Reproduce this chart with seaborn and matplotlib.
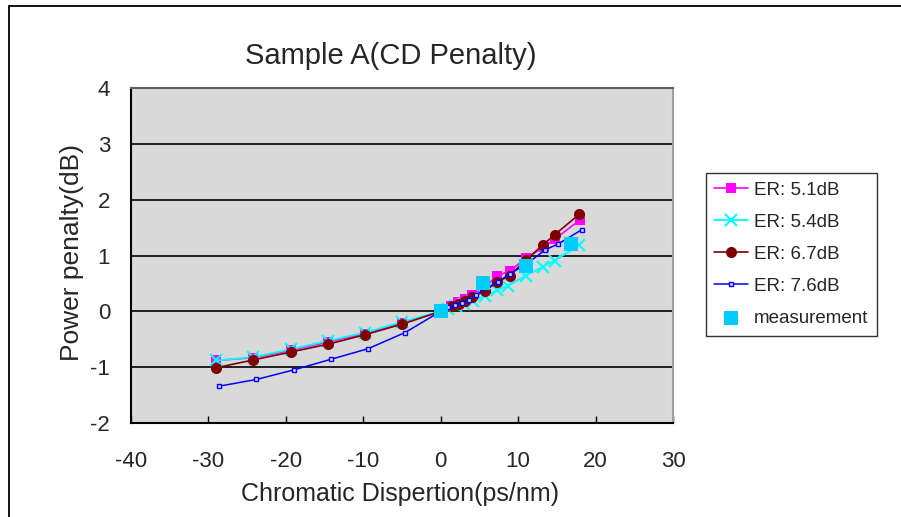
import numpy as np
import matplotlib.pyplot as plt
from matplotlib.lines import Line2D
import seaborn as sns

sns.set_style("white")
plt.rcParams['font.family'] = ['Liberation Sans', 'DejaVu Sans']
plt.rcParams['axes.unicode_minus'] = False

# chromatic dispersion (ps/nm) and power penalty (dB) per extinction ratio
x_er51 = [-29.0, -24.2, -19.4, -14.6, -9.8, -5.0, 0, 1.3, 2.2, 3.1, 4.0, 5.6, 7.3, 8.9, 11.0, 13.3, 14.8, 18.0]
y_er51 = [-0.88, -0.83, -0.70, -0.55, -0.40, -0.21, 0, 0.10, 0.16, 0.22, 0.29, 0.42, 0.64, 0.72, 0.95, 1.15, 1.30, 1.64]

x_er54 = [-29.0, -24.2, -19.4, -14.6, -9.8, -5.0, 0, 1.0, 2.0, 3.0, 4.2, 5.7, 7.3, 8.7, 11.0, 13.2, 14.7, 17.9]
y_er54 = [-0.88, -0.82, -0.68, -0.53, -0.38, -0.19, 0, 0.05, 0.09, 0.14, 0.19, 0.28, 0.38, 0.46, 0.64, 0.80, 0.91, 1.18]

x_er67 = [-29.0, -24.2, -19.4, -14.6, -9.8, -5.0, 0, 1.4, 2.3, 3.2, 4.0, 5.7, 7.3, 8.9, 11.0, 13.2, 14.7, 17.9]
y_er67 = [-1.01, -0.87, -0.73, -0.59, -0.42, -0.23, 0, 0.09, 0.14, 0.19, 0.25, 0.37, 0.52, 0.64, 0.92, 1.19, 1.37, 1.74]

x_er76 = [-28.6, -23.8, -19.0, -14.2, -9.4, -4.6, 0, 1.0, 1.9, 2.7, 3.6, 4.5, 7.4, 8.9, 11.0, 13.5, 15.2, 18.2]
y_er76 = [-1.34, -1.22, -1.05, -0.86, -0.67, -0.38, 0, 0.07, 0.11, 0.15, 0.20, 0.29, 0.53, 0.67, 0.84, 1.10, 1.21, 1.46]

x_meas = [0, 5.5, 11.0, 16.8]
y_meas = [0, 0.51, 0.81, 1.21]

fig = plt.figure(figsize=(9.01, 5.17), dpi=100)
ax = fig.add_axes([131 / 901, 1 - 423 / 517, 542 / 901, 335 / 517])
ax.set_facecolor('#D9D9D9')

# seaborn draws marker edges white by default, so give each series its own edge colour
sns.lineplot(x=x_er51, y=y_er51, ax=ax, sort=False, color='#FF00FF', marker='s',
             markersize=7, markeredgecolor='#FF00FF', markeredgewidth=0,
             linewidth=1.2, label='ER: 5.1dB', zorder=3)
sns.lineplot(x=x_er54, y=y_er54, ax=ax, sort=False, color='#00FFFF', marker='x',
             markersize=8, markeredgecolor='#00FFFF', markeredgewidth=1.5,
             linewidth=1.3, label='ER: 5.4dB', zorder=3)
sns.lineplot(x=x_er67, y=y_er67, ax=ax, sort=False, color='#800000', marker='o',
             markersize=8, markeredgecolor='#800000', markeredgewidth=0,
             linewidth=1.2, label='ER: 6.7dB', zorder=4)
sns.lineplot(x=x_er76, y=y_er76, ax=ax, sort=False, color='#0000FF', marker='s',
             markersize=3.3, markerfacecolor='#D8D8FF', markeredgecolor='#0000FF',
             markeredgewidth=1.0, linewidth=1.1, label='ER: 7.6dB', zorder=5)
sns.scatterplot(x=x_meas, y=y_meas, ax=ax, color='#00CCFF', marker='s', s=100,
                linewidth=0, label='measurement', zorder=6)

ax.set_xlim(-40, 30)
ax.set_ylim(-2, 4)
ax.set_xticks(np.arange(-40, 31, 10))
ax.set_yticks(np.arange(-2, 5, 1))
ax.yaxis.grid(True, color='#111111', linewidth=1.3)
ax.xaxis.grid(False)
ax.set_axisbelow(True)

ax.tick_params(axis='x', direction='in', length=5, width=1, color='black',
               pad=20, labelsize=16, bottom=True)
ax.tick_params(axis='y', length=0, pad=15, labelsize=16)

ax.spines['left'].set_color('black')
ax.spines['left'].set_linewidth(1.5)
ax.spines['bottom'].set_color('black')
ax.spines['bottom'].set_linewidth(1.5)
ax.spines['top'].set_color('#606060')
ax.spines['top'].set_linewidth(1.5)
ax.spines['right'].set_color('#A0A0A0')
ax.spines['right'].set_linewidth(1.5)

ax.set_xlabel('')
ax.set_ylabel('')
fig.text(400 / 901, 1 - 494 / 517, 'Chromatic Dispertion(ps/nm)', ha='center',
         va='center', fontsize=18)
fig.text(72 / 901, 1 - 253 / 517, 'Power penalty(dB)', ha='center', va='center',
         rotation=90, fontsize=19)
fig.text(391 / 901, 1 - 56 / 517, 'Sample A(CD Penalty)', ha='center', va='center',
         fontsize=21)

leg = ax.legend(loc='upper left', bbox_to_anchor=(706 / 901, 1 - 173 / 517),
                bbox_transform=fig.transFigure, frameon=True, fancybox=False,
                fontsize=13.5, handlelength=1.8, labelspacing=0.8,
                borderpad=0.45, handletextpad=0.3, borderaxespad=0)
leg.get_frame().set_edgecolor('black')
leg.get_frame().set_linewidth(1.0)

# outer chart frame
fig.add_artist(Line2D([9 / 901, 9 / 901], [0, 1 - 6 / 517], transform=fig.transFigure,
                      color='black', linewidth=1.3))
fig.add_artist(Line2D([9 / 901, 1], [1 - 6 / 517, 1 - 6 / 517], transform=fig.transFigure,
                      color='black', linewidth=1.3))

fig.savefig('out.png', dpi=100)
